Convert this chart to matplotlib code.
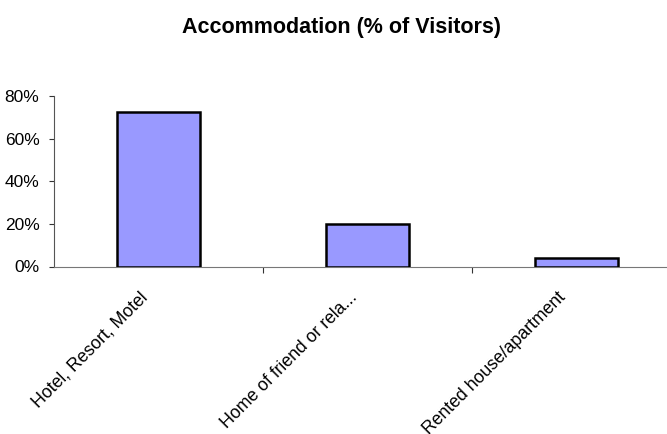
import matplotlib
matplotlib.use("Agg")
import matplotlib.pyplot as plt
import matplotlib.transforms as mtransforms
from matplotlib.ticker import PercentFormatter

plt.rcParams['font.family'] = ['Liberation Sans', 'DejaVu Sans']

# Data
categories = ["Hotel, Resort, Motel", "Home of friend or rela...", "Rented house/apartment"]
values = [0.729, 0.199, 0.042]
y_ticks = [0, 0.2, 0.4, 0.6, 0.8]

fig = plt.figure(figsize=(6.67, 4.34), dpi=100)
ax = fig.add_axes([54 / 667, 1 - 266.5 / 434, 627 / 667, 170 / 434])

x = list(range(len(categories)))
ax.bar(x, values, width=0.40, color="#9999FF", edgecolor="black", linewidth=1.8, zorder=3)

ax.set_xlim(-0.5, 2.5)
ax.set_ylim(0, 0.8)
ax.set_yticks(y_ticks)
ax.yaxis.set_major_formatter(PercentFormatter(1.0, decimals=0))

# category labels at centres, tick marks between categories
ax.set_xticks(x)
ax.set_xticklabels(categories, rotation=45, ha="right", va="center", rotation_mode="anchor")
ax.set_xticks([0.5, 1.5], minor=True)
ax.tick_params(axis="x", which="major", length=0, pad=20.5, labelsize=12.7)
ax.tick_params(axis="x", which="minor", length=4, width=0.8, color="#333333", direction="out")
ax.tick_params(axis="y", length=3.5, width=0.8, color="#333333", labelsize=12.5, pad=7)

# nudge the slanted labels a little left, like the original
shift = mtransforms.ScaledTranslation(-13 / 100, 0, fig.dpi_scale_trans)
for lab in ax.get_xticklabels():
    lab.set_transform(lab.get_transform() + shift)

for s in ["top", "right"]:
    ax.spines[s].set_visible(False)
ax.spines["left"].set_color("#555555")
ax.spines["bottom"].set_color("#777777")
ax.spines["left"].set_linewidth(0.8)
ax.spines["bottom"].set_linewidth(0.8)

fig.text(341 / 667, 1 - 28 / 434, "Accommodation (% of Visitors)", ha="center", va="center",
         fontsize=15.5, fontweight="bold")

fig.savefig("out.png", dpi=100)
